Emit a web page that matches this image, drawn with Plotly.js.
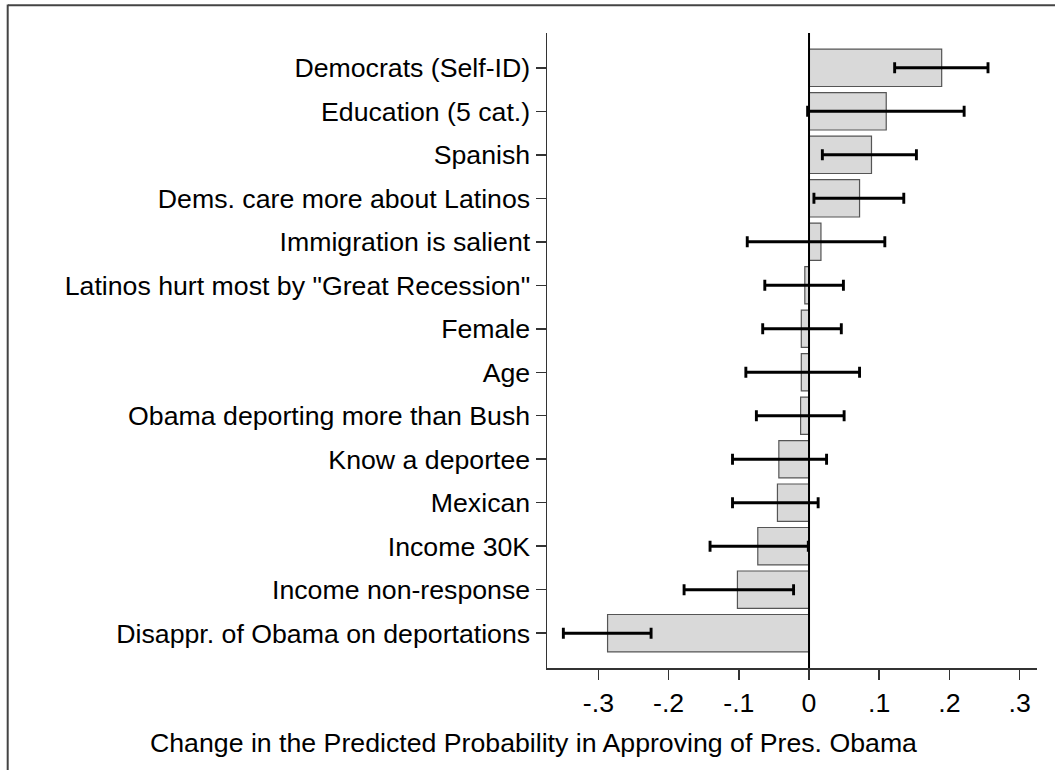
<!DOCTYPE html>
<html>
<head>
<meta charset="utf-8">
<script src="https://cdn.plot.ly/plotly-3.0.1.min.js"></script>
<style>
  html, body { margin: 0; padding: 0; background: #fff; }
  #chart { width: 1055px; height: 770px; }
</style>
</head>
<body>
<div id="chart"></div>
<script>
// ---- Data ----
const categories = [
  'Democrats (Self-ID)',
  'Education (5 cat.)',
  'Spanish',
  'Dems. care more about Latinos',
  'Immigration is salient',
  'Latinos hurt most by "Great Recession"',
  'Female',
  'Age',
  'Obama deporting more than Bush',
  'Know a deportee',
  'Mexican',
  'Income 30K',
  'Income non-response',
  'Disappr. of Obama on deportations'
];
const effects = [0.189, 0.110, 0.089, 0.072, 0.017, -0.006, -0.011, -0.011, -0.012, -0.043, -0.045, -0.073, -0.102, -0.287];
const ciLow   = [0.122, -0.002, 0.019, 0.007, -0.088, -0.063, -0.066, -0.090, -0.075, -0.109, -0.109, -0.141, -0.178, -0.350];
const ciHigh  = [0.255, 0.221, 0.153, 0.135, 0.108, 0.049, 0.046, 0.072, 0.050, 0.025, 0.013, -0.001, -0.022, -0.225];
const xTickVals = [-0.3, -0.2, -0.1, 0, 0.1, 0.2, 0.3];
const xTickText = ['-.3', '-.2', '-.1', '0', '.1', '.2', '.3'];
const xTitle = 'Change in the Predicted Probability in Approving of Pres. Obama';

// ---- Layout geometry ----
const W = 1055, H = 770;
const M = { l: 547, r: 18, t: 33, b: 102 };
const plotW = W - M.l - M.r, plotH = H - M.t - M.b;
const pxX = px => (px - M.l) / plotW;
const pxY = py => (H - M.b - py) / plotH;

const FONT = 'Liberation Sans, Arial, Helvetica, sans-serif';
const FS = 26.7;

const trace = {
  type: 'bar',
  orientation: 'h',
  x: effects,
  y: categories,
  width: 0.86,
  marker: { color: '#d9d9d9', line: { color: '#555555', width: 1.2 } },
  error_x: {
    type: 'data',
    symmetric: false,
    array: effects.map((v, i) => ciHigh[i] - v),
    arrayminus: effects.map((v, i) => v - ciLow[i]),
    color: '#000000',
    thickness: 2.9,
    width: 5.5
  },
  hoverinfo: 'skip'
};

const layout = {
  width: W, height: H,
  margin: M,
  paper_bgcolor: '#ffffff',
  plot_bgcolor: '#ffffff',
  showlegend: false,
  hovermode: false,
  font: { family: FONT, size: FS, color: '#000000' },
  xaxis: {
    range: [-0.3733, 0.3248],
    tickvals: xTickVals,
    ticktext: xTickText,
    showgrid: false,
    zeroline: false,
    showline: true,
    linecolor: '#333333',
    linewidth: 1.5,
    ticks: 'outside',
    ticklen: 10,
    tickwidth: 1.5,
    tickcolor: '#333333',
    tickfont: { family: FONT, size: FS, color: '#000000' }
  },
  yaxis: {
    type: 'category',
    range: [13.8, -0.8],
    showgrid: false,
    zeroline: false,
    showline: true,
    linecolor: '#333333',
    linewidth: 1.5,
    ticks: 'outside',
    ticklen: 10,
    tickwidth: 1.5,
    tickcolor: '#333333',
    tickfont: { family: FONT, size: FS, color: '#000000' }
  },
  annotations: [{
    text: xTitle,
    xref: 'paper', yref: 'paper',
    x: pxX(533), y: pxY(743),
    xanchor: 'center', yanchor: 'middle',
    showarrow: false,
    font: { family: FONT, size: FS, color: '#000000' }
  }],
  shapes: [
    { type: 'line', xref: 'x', yref: 'paper', x0: 0, x1: 0, y0: 0, y1: 1,
      line: { color: '#000000', width: 2 }, layer: 'above' },
    { type: 'line', xref: 'paper', yref: 'paper', x0: pxX(8), x1: pxX(1100), y0: pxY(5.3), y1: pxY(5.3),
      line: { color: '#444444', width: 2 } },
    { type: 'line', xref: 'paper', yref: 'paper', x0: pxX(7.7), x1: pxX(7.7), y0: pxY(4.5), y1: pxY(800),
      line: { color: '#444444', width: 2 } }
  ]
};

Plotly.newPlot('chart', [trace], layout, { displayModeBar: false, staticPlot: true });
</script>
</body>
</html>
